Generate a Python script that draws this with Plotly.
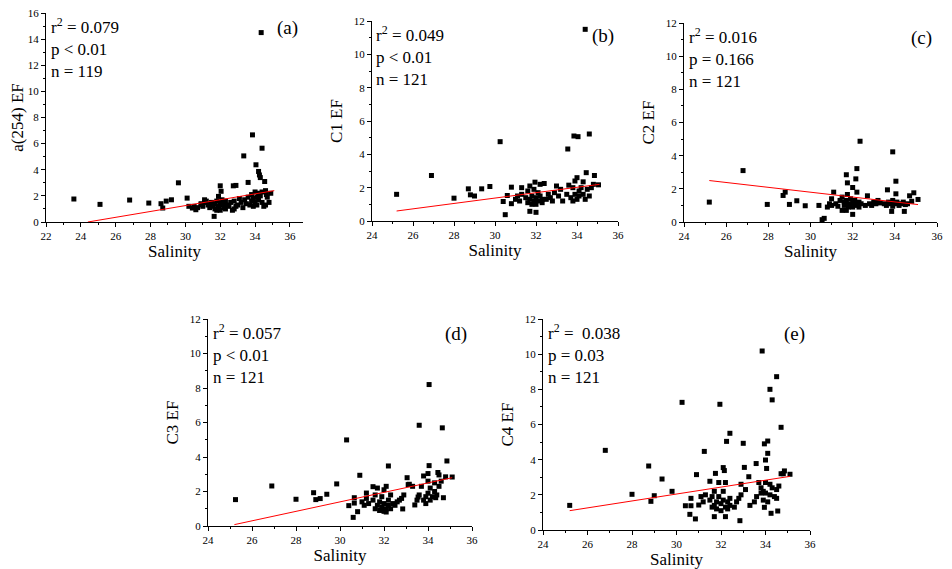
import plotly.graph_objects as go

# Datos: (salinidad, EF)
pts_a = [(23.6, 1.76), (25.1, 1.35), (26.8, 1.68), (27.9, 1.45), (28.6, 1.4), (28.7, 1.07),
         (28.9, 1.6), (29.2, 1.7), (29.6, 3.0), (30.1, 1.83), (30.2, 1.2), (30.4, 1.07),
         (30.6, 0.94), (30.9, 1.32), (31.1, 1.7), (31.4, 1.32), (31.65, 0.43), (31.9, 1.96),
         (32.0, 2.77), (32.05, 2.35), (32.75, 2.77), (32.9, 2.8), (33.35, 5.06), (33.85, 6.67),
         (34.05, 4.38), (34.2, 3.87), (34.25, 3.6), (34.3, 3.4), (34.4, 5.65), (34.35, 14.5),
         (33.6, 3.03), (34.55, 3.1), (34.65, 2.1), (34.8, 1.5),
         (30.5, 1.2), (30.7, 1.1), (30.9, 1.4), (31.0, 1.2), (31.1, 1.5), (31.2, 1.6), (31.3, 1.3),
         (31.4, 1.1), (31.5, 1.5), (31.6, 1.2), (31.7, 1.0), (31.7, 1.4), (31.8, 0.9), (31.8, 1.6),
         (31.9, 1.2), (31.9, 1.0), (32.0, 1.5), (32.0, 0.9), (32.1, 1.3), (32.1, 1.7), (32.2, 1.1),
         (32.2, 1.4), (32.3, 1.6), (32.3, 1.0), (32.4, 1.3), (32.5, 1.2), (32.6, 1.5), (32.7, 0.9),
         (32.8, 1.0), (32.8, 1.6), (32.9, 1.2), (33.0, 1.3), (33.1, 1.8), (33.2, 1.5), (33.3, 1.1),
         (33.4, 1.7), (33.5, 1.4), (33.6, 1.9), (33.7, 1.3), (33.8, 2.1), (33.8, 1.6), (33.9, 1.2),
         (33.9, 1.8), (34.0, 2.3), (34.0, 1.5), (34.1, 1.9), (34.1, 1.3), (34.2, 2.2), (34.2, 1.7),
         (34.3, 2.0), (34.4, 2.3), (34.4, 1.5), (34.5, 1.2), (34.6, 2.4), (34.6, 1.3), (34.7, 1.9),
         (34.9, 2.2)]

pts_b = [(25.2, 1.6), (26.9, 2.73), (28.0, 1.37), (28.7, 1.93), (28.8, 1.57), (29.0, 1.5),
         (29.35, 1.93), (29.75, 2.07), (30.25, 4.76), (30.4, 1.17), (30.5, 0.38), (30.6, 1.53),
         (30.8, 2.03), (30.8, 1.04), (31.7, 0.58), (32.0, 0.52), (31.95, 2.33), (33.55, 4.32),
         (33.85, 5.1), (34.05, 5.06), (34.4, 11.5), (34.6, 5.22), (34.45, 2.9), (34.85, 2.73),
         (35.05, 2.17),
         (31.0, 1.3), (31.1, 1.5), (31.2, 1.2), (31.3, 1.6), (31.3, 2.0), (31.5, 1.4), (31.6, 1.1),
         (31.6, 1.8), (31.7, 1.3), (31.7, 2.1), (31.8, 1.0), (31.8, 1.5), (31.9, 1.2), (31.9, 1.9),
         (32.0, 1.4), (32.0, 1.0), (32.1, 1.7), (32.1, 1.2), (32.2, 1.5), (32.2, 2.2), (32.3, 1.1),
         (32.3, 1.3), (32.4, 2.25), (32.5, 1.3), (32.6, 1.6), (32.7, 1.4), (32.8, 1.2), (32.9, 1.7),
         (33.0, 2.1), (33.1, 1.5), (33.2, 1.9), (33.3, 1.2), (33.5, 1.6), (33.6, 2.15), (33.7, 1.4),
         (33.8, 1.2), (33.8, 2.0), (33.9, 1.6), (33.9, 2.4), (34.0, 1.3), (34.0, 2.6), (34.1, 1.8),
         (34.1, 1.5), (34.2, 2.0), (34.3, 2.35), (34.3, 1.6), (34.4, 1.3), (34.5, 1.9), (34.6, 1.5),
         (34.7, 2.0), (34.8, 2.2)]

pts_c = [(25.2, 1.2), (26.8, 3.1), (27.95, 1.06), (28.7, 1.6), (28.8, 1.8), (29.0, 1.06),
         (29.35, 1.28), (29.75, 0.98), (30.4, 1.0), (30.55, 0.14), (30.65, 0.22), (31.1, 1.8),
         (31.7, 2.85), (31.75, 2.36), (31.75, 1.66), (32.0, 2.08), (32.0, 0.46), (32.2, 3.22),
         (32.15, 2.6), (32.2, 1.8), (32.35, 4.87), (32.7, 1.58), (33.9, 4.23), (34.05, 2.46),
         (34.05, 1.7), (33.65, 1.94), (33.85, 0.64), (34.45, 0.64), (34.7, 1.58), (34.9, 1.76),
         (35.1, 1.36),
         (30.8, 0.9), (30.9, 1.1), (31.0, 1.4), (31.0, 1.0), (31.2, 1.1), (31.3, 0.95), (31.4, 1.3),
         (31.5, 1.5), (31.5, 0.7), (31.6, 1.0), (31.6, 1.2), (31.7, 0.7), (31.7, 1.3), (31.8, 0.9),
         (31.8, 1.1), (31.9, 1.0), (31.9, 1.4), (32.0, 1.2), (32.0, 0.9), (32.1, 1.1), (32.1, 1.3),
         (32.2, 1.0), (32.3, 0.9), (32.3, 1.2), (32.4, 1.1), (32.6, 1.0), (32.8, 1.1), (32.9, 1.0),
         (33.0, 1.2), (33.1, 1.1), (33.2, 1.3), (33.3, 1.15), (33.5, 1.1), (33.6, 1.0), (33.7, 1.2),
         (33.8, 1.1), (33.9, 0.95), (33.9, 1.3), (34.0, 1.1), (34.1, 1.2), (34.2, 1.0), (34.3, 1.1),
         (34.4, 1.2), (34.5, 1.05), (34.6, 1.1), (34.8, 1.25)]

pts_d = [(25.25, 1.53), (26.9, 2.32), (28.0, 1.55), (28.8, 1.93), (28.9, 1.53), (29.1, 1.59),
         (29.4, 1.84), (29.85, 2.44), (30.3, 4.99), (30.4, 1.18), (30.6, 0.5), (30.65, 1.64),
         (30.65, 1.33), (30.8, 0.83), (30.9, 2.94), (31.2, 1.91), (31.5, 2.28), (32.2, 3.48),
         (32.1, 0.81), (32.85, 0.99), (33.05, 2.8), (33.15, 2.42), (33.4, 1.22), (33.6, 5.84),
         (33.55, 1.68), (34.05, 8.2), (34.05, 3.5), (34.0, 3.04), (34.65, 5.69), (34.86, 3.77),
         (35.1, 2.84), (34.7, 1.64), (34.35, 1.64), (34.45, 3.1), (34.5, 2.96),
         (31.0, 1.4), (31.1, 1.2), (31.2, 1.6), (31.3, 1.3), (31.5, 1.5), (31.6, 1.0), (31.6, 1.8),
         (31.7, 1.2), (31.7, 2.2), (31.8, 1.4), (31.8, 0.9), (31.9, 1.1), (31.9, 1.7), (32.0, 2.1),
         (32.0, 1.3), (32.0, 0.85), (32.1, 1.0), (32.1, 2.3), (32.2, 1.5), (32.2, 1.2), (32.3, 1.0),
         (32.3, 1.8), (32.4, 1.3), (32.5, 1.2), (32.6, 1.4), (32.7, 1.5), (32.8, 1.6), (32.9, 1.8),
         (33.1, 2.4), (33.3, 2.3), (33.5, 1.5), (33.6, 1.8), (33.7, 2.3), (33.8, 2.9), (33.8, 1.5),
         (33.9, 1.3), (33.9, 1.7), (34.0, 2.6), (34.0, 1.9), (34.1, 1.5), (34.1, 2.2), (34.2, 1.7),
         (34.3, 2.0), (34.3, 2.5), (34.4, 1.8), (34.5, 2.3), (34.6, 2.6), (34.8, 2.85)]

pts_e = [(25.2, 1.4), (26.8, 4.53), (28.0, 2.03), (28.75, 3.64), (28.85, 1.63), (29.0, 1.95),
         (29.35, 2.9), (29.8, 2.2), (30.25, 7.26), (30.4, 1.38), (30.6, 0.89), (30.65, 1.8),
         (30.65, 1.38), (30.85, 0.63), (30.9, 3.15), (31.0, 1.42), (31.25, 4.47), (31.5, 2.77),
         (31.75, 3.22), (31.7, 0.76), (31.95, 7.15), (32.1, 3.55), (32.15, 3.38), (32.25, 5.04),
         (32.4, 5.5), (32.2, 0.76), (32.85, 0.53), (33.0, 4.93), (33.05, 3.56), (33.25, 3.03),
         (33.58, 3.78), (33.85, 10.18), (33.95, 4.9), (34.1, 5.06), (34.1, 4.36), (34.0, 3.98),
         (34.05, 3.5), (34.2, 8.0), (34.3, 7.4), (34.5, 8.72), (34.7, 5.84), (34.25, 0.95),
         (34.55, 1.08), (33.95, 1.29), (34.8, 3.2), (34.85, 3.36), (35.1, 3.17),
         (31.1, 1.9), (31.2, 1.6), (31.3, 2.0), (31.5, 1.7), (31.6, 1.9), (31.6, 1.3), (31.7, 2.2),
         (31.7, 1.4), (31.8, 1.6), (31.8, 1.2), (31.9, 2.7), (31.9, 1.9), (32.0, 1.5), (32.0, 1.1),
         (32.1, 2.2), (32.1, 1.7), (32.2, 1.3), (32.2, 2.7), (32.3, 1.6), (32.3, 1.2), (32.4, 1.8),
         (32.4, 1.4), (32.6, 1.3), (32.7, 1.6), (32.8, 1.8), (32.9, 2.6), (32.9, 2.0), (33.1, 2.3),
         (33.3, 1.4), (33.5, 1.6), (33.6, 1.9), (33.7, 2.7), (33.8, 2.4), (33.8, 2.1), (33.9, 2.2),
         (33.9, 1.7), (34.0, 2.7), (34.0, 2.1), (34.1, 1.6), (34.2, 2.6), (34.2, 2.0), (34.3, 2.4),
         (34.4, 1.9), (34.5, 2.3), (34.5, 1.8), (34.6, 2.5), (34.7, 3.2)]

# Rectas de ajuste (extremos x, y)
fit_a = ([24.4, 35.1], [0.0, 2.4])
fit_b = ([25.2, 35.1], [0.6, 2.2])
fit_c = ([25.2, 35.1], [2.5, 1.05])
fit_d = ([25.2, 35.1], [0.08, 2.8])
fit_e = ([25.2, 35.1], [1.1, 3.05])

etiquetas_y = ["a(254) EF", "C1 EF", "C2 EF", "C3 EF", "C4 EF"]
estadisticos = ["r<sup>2</sup> = 0.079<br>p < 0.01<br>n = 119",
                "r<sup>2</sup> = 0.049<br>p < 0.01<br>n = 121",
                "r<sup>2</sup> = 0.016<br>p = 0.166<br>n = 121",
                "r<sup>2</sup> = 0.057<br>p < 0.01<br>n = 121",
                "r<sup>2</sup> =  0.038<br>p = 0.03<br>n = 121"]
paneles = ["(a)", "(b)", "(c)", "(d)", "(e)"]

W, H = 952, 569
OFF = 8  # margen del body de la pagina
# caja de cada panel en pixeles de pantalla: x0, x1, y0 (arriba), y1 (abajo)
cajas = [(46, 303, 13, 222), (372, 618, 21, 221), (684, 937, 23, 222),
         (208, 472, 319, 526), (543, 810, 319, 530)]
rangos_x = [[22, 36.75], [24, 36], [24, 36], [24, 36], [24, 36]]
rangos_y = [[0, 16], [0, 12], [0, 12], [0, 12], [0, 12]]

FUENTE = "Liberation Serif"
fig = go.Figure()

datos = [pts_a, pts_b, pts_c, pts_d, pts_e]
ajustes = [fit_a, fit_b, fit_c, fit_d, fit_e]

for i in range(5):
    n = "" if i == 0 else str(i + 1)
    xs = [p[0] for p in datos[i]]
    ys = [p[1] for p in datos[i]]
    fig.add_trace(go.Scatter(x=xs, y=ys, mode="markers", xaxis="x" + n, yaxis="y" + n,
                             marker=dict(symbol="square", size=5, color="black"),
                             showlegend=False))
    fig.add_trace(go.Scatter(x=ajustes[i][0], y=ajustes[i][1], mode="lines",
                             xaxis="x" + n, yaxis="y" + n,
                             line=dict(color="red", width=1), showlegend=False))

    x0, x1, y0, y1 = [v - OFF for v in cajas[i]]
    ejes = dict(showline=True, linecolor="black", linewidth=1, showgrid=False,
                zeroline=False, ticks="outside", ticklen=4, tickcolor="black",
                automargin=False, ticklabeloverflow="allow",
                tickfont=dict(family=FUENTE, size=11, color="black"),
                minor=dict(ticks="outside", ticklen=2, dtick=1, tickcolor="black"))
    fig.update_layout(**{
        "xaxis" + n: dict(ejes, domain=[x0 / W, x1 / W], range=rangos_x[i], dtick=2,
                          anchor="y" + n,
                          title=dict(text="Salinity", standoff=0,
                                     font=dict(family=FUENTE, size=17, color="black"))),
        "yaxis" + n: dict(ejes, domain=[1 - y1 / H, 1 - y0 / H], range=rangos_y[i], dtick=2,
                          anchor="x" + n,
                          title=dict(text=etiquetas_y[i], standoff=6,
                                     font=dict(family=FUENTE, size=17, color="black"))),
    })
    fig.add_annotation(xref="x" + n + " domain", yref="y" + n + " domain", x=0.01, y=1.0,
                       xanchor="left", yanchor="top", align="left", showarrow=False,
                       text=estadisticos[i],
                       font=dict(family=FUENTE, size=17, color="black"))
    fig.add_annotation(xref="x" + n + " domain", yref="y" + n + " domain", x=0.99, y=0.99,
                       xanchor="right", yanchor="top", showarrow=False, text=paneles[i],
                       font=dict(family=FUENTE, size=19, color="black"))

fig.update_layout(width=W, height=H, margin=dict(l=0, r=0, t=0, b=0, autoexpand=False),
                  plot_bgcolor="white", paper_bgcolor="white")

fig.write_html("out.html")
